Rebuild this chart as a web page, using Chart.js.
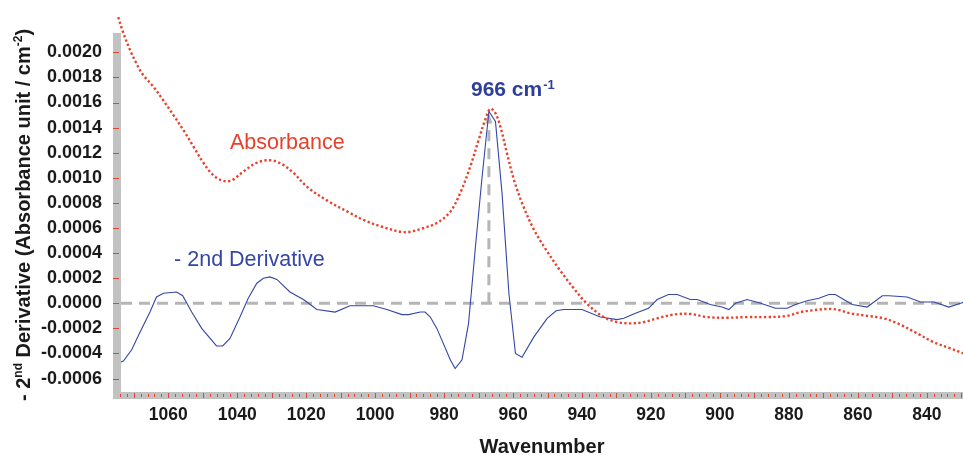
<!DOCTYPE html>
<html>
<head>
<meta charset="utf-8">
<script src="https://cdn.jsdelivr.net/npm/chart.js@4/dist/chart.umd.min.js"></script>
<style>
  html, body { margin: 0; padding: 0; background: #fff; overflow: hidden; }
  canvas { display: block; }
</style>
</head>
<body>
<canvas id="chart" width="963" height="455"></canvas>
<script>
// - 2nd derivative spectrum (wavenumber, value)
const derivX = [1074, 1073, 1070.6, 1068.2, 1065.3, 1063.4, 1061.4, 1057.6, 1055.8, 1053.2, 1050.3, 1046, 1044.2, 1042.1, 1039.2, 1036.8, 1034.3, 1032.4, 1030.5, 1028.5, 1024.7, 1020.8, 1016.9, 1011.6, 1007.3, 1000.5, 996.6, 992.2, 990.3, 986.9, 985.5, 984.0, 982.1, 978.2, 976.8, 974.8, 972.9, 970.9, 969.0, 967.0, 965.1, 963.2, 961.2, 959.3, 957.4, 954.0, 950.1, 947.5, 945.3, 940.0, 934.7, 929.8, 927.9, 924.5, 920.7, 918.2, 914.9, 912.4, 908.6, 906.6, 902.8, 899.4, 897.4, 895.5, 892.1, 888.2, 883.9, 880.5, 878.1, 874.7, 871.3, 868.4, 866.5, 864.1, 861.6, 857.3, 855.8, 852.9, 851.0, 845.7, 841.8, 837.9, 833.6, 830.2, 829.3];
const derivY = [-0.00047, -0.00046, -0.00037, -0.00023, -0.00007, 0.00005, 0.00008, 0.00009, 0.00006, -0.00007, -0.00020, -0.00034, -0.00034, -0.00028, -0.00011, 0.00004, 0.00016, 0.00020, 0.00021, 0.00019, 0.00009, 0.00003, -0.00005, -0.00007, -0.00002, -0.00002, -0.00005, -0.00009, -0.00009, -0.00007, -0.00007, -0.00011, -0.00020, -0.00045, -0.00052, -0.00045, -0.00016, 0.00045, 0.00100, 0.00153, 0.00145, 0.00088, 0.00008, -0.00040, -0.00043, -0.00027, -0.00012, -0.00006, -0.00005, -0.00005, -0.00011, -0.00013, -0.00012, -0.00008, -0.00004, 0.00003, 0.00007, 0.00007, 0.00003, 0.00003, -0.00001, -0.00003, -0.00005, 0.0, 0.00003, 0.0, -0.00004, -0.00004, -0.00001, 0.00002, 0.00004, 0.00007, 0.00007, 0.00003, -0.00001, -0.00003, 0.0, 0.00006, 0.00006, 0.00005, 0.00001, 0.00001, -0.00003, 0.0, 0.00001];

// absorbance spectrum (wavenumber, value)
const absX = [1074.5, 1073.1, 1071.1, 1069.2, 1067.3, 1064.4, 1061.5, 1058.5, 1055.6, 1052.7, 1049.8, 1046.9, 1044.0, 1041.6, 1038.2, 1034.3, 1030.5, 1027.1, 1023.7, 1019.8, 1014.0, 1008, 1003, 998, 992.7, 989.8, 985.9, 982.1, 978.2, 975.3, 972.4, 970.0, 968.1, 966.6, 965.2, 963.7, 961.8, 959.8, 957.4, 954.0, 950.5, 946.3, 942.4, 938.7, 933.7, 929.8, 926.0, 922.1, 918.2, 913.4, 908.6, 903.7, 897.9, 892.1, 886.3, 880.5, 876.6, 872.8, 868.9, 866.0, 862.2, 857.3, 852.5, 847.7, 842.8, 838.0, 833.1, 829.3];
const absY = [0.00228, 0.00216, 0.00202, 0.00191, 0.00182, 0.00173, 0.00162, 0.00150, 0.00138, 0.00125, 0.00112, 0.00102, 0.000975, 0.00098, 0.00105, 0.00112, 0.00114, 0.00111, 0.00104, 0.00093, 0.00082, 0.00073, 0.00066, 0.00061, 0.00057, 0.00057, 0.00060, 0.00064, 0.00073, 0.00088, 0.00109, 0.00130, 0.00146, 0.00155, 0.00152, 0.00141, 0.00120, 0.00099, 0.00080, 0.00059, 0.00043, 0.00026, 0.00012, 0.0, -0.00011, -0.00015, -0.00016, -0.00015, -0.00012, -0.00009, -0.000085, -0.00011, -0.000115, -0.00011, -0.00011, -0.0001, -0.00007, -0.000055, -0.000045, -0.00005, -0.00008, -0.0001, -0.00012, -0.00017, -0.00024, -0.00031, -0.00036, -0.0004];

const peakWavenumber = 967;
const peakArrowTip = 0.00152;

const FONT = "'Liberation Sans', Arial, Helvetica, sans-serif";
const RED = '#e8412b';
const BLUE = '#3446a6';

function toPoints(xs, ys) {
    return xs.map((x, i) => ({ x: x, y: ys[i] }));
}

const framePlugin = {
    id: 'frame',
    beforeDatasetsDraw(chart) {
        const { ctx, chartArea: a, scales: { x, y } } = chart;
        ctx.save();
        // grey axis bars
        ctx.fillStyle = '#c2c2c2';
        ctx.fillRect(a.left - 8, a.top, 8, a.bottom - a.top + 7);
        ctx.fillRect(a.left - 8, a.bottom, a.right - a.left + 8, 7);

        // red tick marks
        ctx.strokeStyle = '#e2442e';
        ctx.lineWidth = 1;
        y.ticks.forEach(t => {
            const py = Math.round(y.getPixelForValue(t.value)) + 0.5;
            ctx.beginPath();
            ctx.moveTo(a.left - 8, py);
            ctx.lineTo(a.left - 2, py);
            ctx.stroke();
        });
        for (let v = 830; v <= 1074; v += 2) {
            const px = Math.round(x.getPixelForValue(v)) + 0.5;
            const long = v % 10 === 0;
            ctx.beginPath();
            ctx.moveTo(px, a.bottom + (long ? 1 : 2));
            ctx.lineTo(px, a.bottom + (long ? 6 : 5));
            ctx.stroke();
        }

        // dashed zero line and arrow to peak
        const y0 = y.getPixelForValue(0);
        const xp = x.getPixelForValue(peakWavenumber);
        const yTip = y.getPixelForValue(peakArrowTip);
        ctx.strokeStyle = '#b5b5b5';
        ctx.lineWidth = 3;
        ctx.setLineDash([11, 7]);
        ctx.beginPath();
        ctx.moveTo(a.left, y0);
        ctx.lineTo(a.right, y0);
        ctx.stroke();
        ctx.beginPath();
        ctx.moveTo(xp, y0);
        ctx.lineTo(xp, yTip + 10);
        ctx.stroke();
        ctx.setLineDash([]);
        ctx.fillStyle = '#b5b5b5';
        ctx.beginPath();
        ctx.moveTo(xp, yTip);
        ctx.lineTo(xp - 3.5, yTip + 11);
        ctx.lineTo(xp + 3.5, yTip + 11);
        ctx.closePath();
        ctx.fill();
        ctx.restore();
    },
    afterDraw(chart) {
        const { ctx, chartArea: a, scales: { x, y } } = chart;
        ctx.save();
        ctx.textBaseline = 'middle';
        ctx.textAlign = 'left';

        ctx.fillStyle = RED;
        ctx.font = '21.5px ' + FONT;
        ctx.fillText('Absorbance', x.getPixelForValue(1042.1), y.getPixelForValue(0.00128));

        ctx.fillStyle = BLUE;
        ctx.fillText('- 2nd Derivative', x.getPixelForValue(1058.3), y.getPixelForValue(0.000345));

        // peak label with superscript
        ctx.textBaseline = 'alphabetic';
        ctx.fillStyle = '#2f3f99';
        ctx.font = 'bold 21px ' + FONT;
        const lx = x.getPixelForValue(972.2);
        const ly = y.getPixelForValue(0.00165);
        ctx.fillText('966 cm', lx, ly);
        const w = ctx.measureText('966 cm').width;
        ctx.font = 'bold 13px ' + FONT;
        ctx.fillText('-1', lx + w + 1, ly - 7);

        // x axis title
        ctx.fillStyle = '#1a1a1a';
        ctx.font = 'bold 20px ' + FONT;
        ctx.textAlign = 'center';
        ctx.fillText('Wavenumber', (a.left + a.right) / 2, 453);

        // y axis title with superscripts
        const parts = [
            ['- 2', false], ['nd', true], [' Derivative (Absorbance unit / cm', false], ['-2', true], [')', false]
        ];
        const big = 'bold 20px ' + FONT, small = 'bold 12px ' + FONT;
        let total = 0;
        parts.forEach(p => { ctx.font = p[1] ? small : big; total += ctx.measureText(p[0]).width; });
        ctx.translate(30, 215);
        ctx.rotate(-Math.PI / 2);
        ctx.textAlign = 'left';
        let cx = -total / 2;
        parts.forEach(p => {
            ctx.font = p[1] ? small : big;
            ctx.fillText(p[0], cx, p[1] ? -8 : 0);
            cx += ctx.measureText(p[0]).width;
        });
        ctx.restore();
    }
};

new Chart(document.getElementById('chart'), {
    type: 'line',
    data: {
        datasets: [
            {
                label: 'Absorbance',
                data: toPoints(absX, absY),
                borderColor: RED,
                borderWidth: 2.4,
                borderDash: [2.3, 2.4],
                pointRadius: 0,
                tension: 0.35,
                clip: false
            },
            {
                label: '- 2nd Derivative',
                data: toPoints(derivX, derivY),
                borderColor: BLUE,
                borderWidth: 1.1,
                pointRadius: 0,
                tension: 0
            }
        ]
    },
    options: {
        responsive: false,
        animation: false,
        devicePixelRatio: 1,
        layout: { padding: { left: 0, top: 33, right: 0, bottom: 0 } },
        plugins: { legend: { display: false }, tooltip: { enabled: false } },
        scales: {
            x: {
                type: 'linear',
                reverse: true,
                min: 829.5,
                max: 1073.7,
                border: { display: false },
                grid: { display: false, drawTicks: false },
                ticks: {
                    stepSize: 20,
                    includeBounds: false,
                    autoSkip: false,
                    maxRotation: 0,
                    minRotation: 0,
                    padding: 13,
                    color: '#1a1a1a',
                    font: { family: FONT, size: 17.5, weight: 'bold' },
                    callback: v => String(Math.round(v))
                },
                afterFit: s => { s.height = 63; }
            },
            y: {
                type: 'linear',
                min: -0.000707,
                max: 0.002154,
                border: { display: false },
                grid: { display: false, drawTicks: false },
                ticks: {
                    stepSize: 0.0002,
                    includeBounds: false,
                    autoSkip: false,
                    padding: 19,
                    color: '#1a1a1a',
                    font: { family: FONT, size: 18, weight: 'bold' },
                    callback: v => Math.abs(v) < 1e-9 ? '0.0000' : v.toFixed(4)
                },
                afterFit: s => { s.width = 121; }
            }
        }
    },
    plugins: [framePlugin]
});
</script>
</body>
</html>
